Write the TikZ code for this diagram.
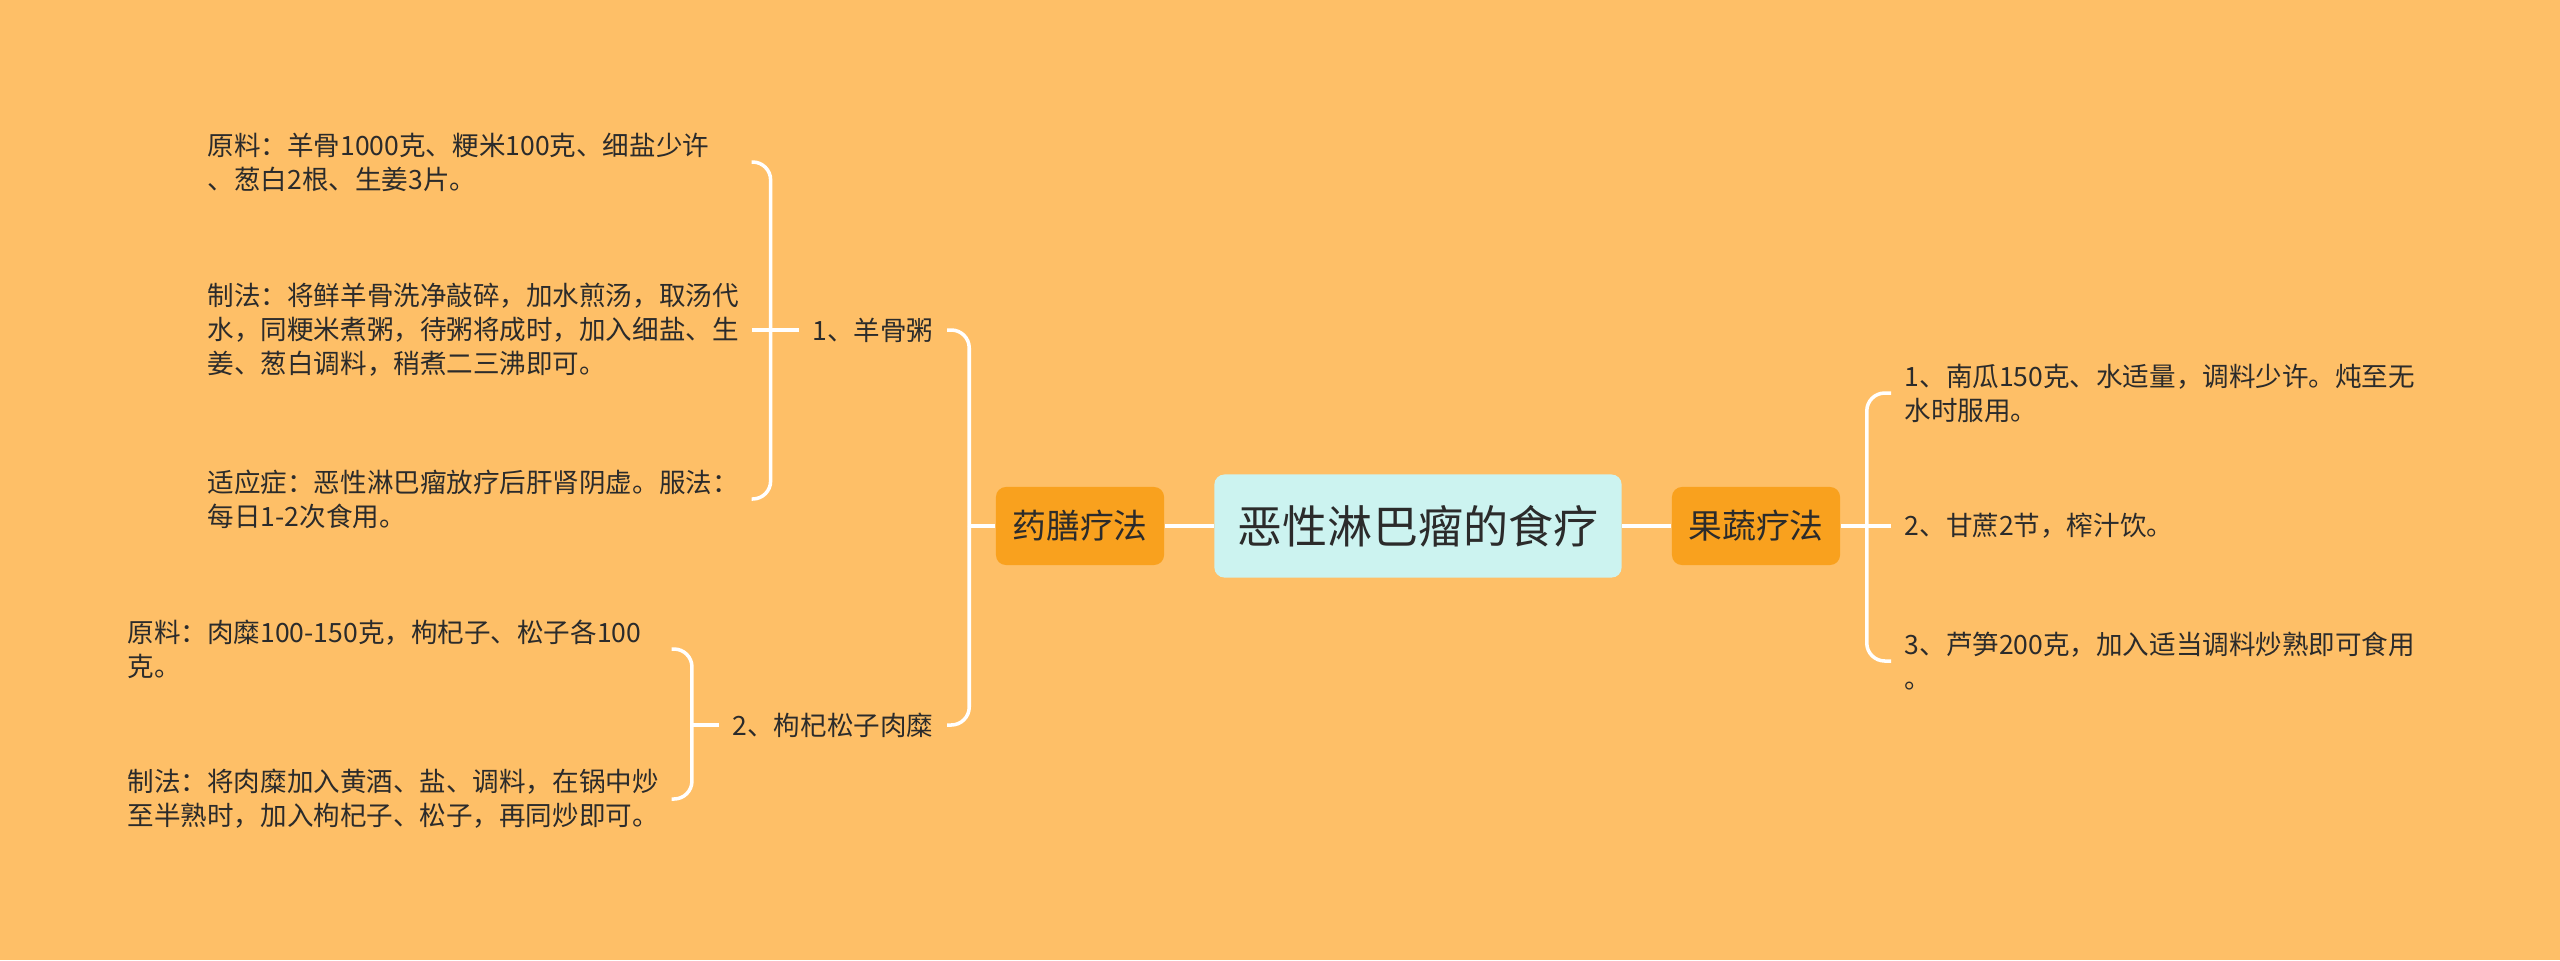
\documentclass[tikz,border=0pt]{standalone}
\usepackage{fontspec}
\setmainfont{Noto Sans CJK SC}
\definecolor{bgc}{HTML}{FEBF67}
\definecolor{mainc}{HTML}{F9A11E}
\definecolor{rootc}{HTML}{CCF3F0}
\definecolor{txt}{HTML}{2B2B2B}
\tikzset{
  root/.style  = {rectangle, rounded corners=1mm, fill=rootc, text=txt, minimum width=40.7mm, minimum height=10.3mm, font=\fontsize{12.8}{15}\selectfont},
  main/.style  = {rectangle, rounded corners=1mm, fill=mainc, text=txt, minimum width=16.8mm, minimum height=7.8mm, font=\fontsize{9.6}{12}\selectfont},
  sub/.style   = {inner sep=1.3mm, text=txt, font=\fontsize{7.55}{9.65}\selectfont},
  leaf/.style  = {inner sep=1.3mm, text=txt, align=left, text width=53mm, font=\fontsize{7.55}{9.65}\selectfont},
  link/.style  = {draw=white, line width=1pt},
  elbow/.style = {link, rounded corners=1.8mm}
}
\begin{document}
\begin{tikzpicture}[x=0.01cm, y=-0.01cm]
  \fill[bgc] (0,0) rectangle (2560,960);
  \useasboundingbox (0,0) rectangle (2560,960);
  % centre and main branches
  \node[root] (R) at (1418,526) {恶性淋巴瘤的食疗};
  \node[main] (Y) at (1080,526) {药膳疗法};
  \node[main] (G) at (1756,526) {果蔬疗法};
  \draw[link] (R.west) -- (Y.east);
  \draw[link] (R.east) -- (G.west);
  % left side
  \node[sub,anchor=east] (Y1) at (947,330) {1、羊骨粥};
  \node[sub,anchor=east] (Y2) at (947,725) {2、枸杞松子肉糜};
  \coordinate (jY) at ([xshift=-2.6mm]Y.west);
  \draw[link] (Y.west) -- (jY);
  \draw[elbow] (jY) |- (Y1.east);
  \draw[elbow] (jY) |- (Y2.east);
  \node[leaf,anchor=west] (Y1a) at (194,162) {原料：羊骨1000克、粳米100克、细盐少许\\、葱白2根、生姜3片。};
  \node[leaf,anchor=west] (Y1b) at (194,330) {制法：将鲜羊骨洗净敲碎，加水煎汤，取汤代\\水，同粳米煮粥，待粥将成时，加入细盐、生\\姜、葱白调料，稍煮二三沸即可。};
  \node[leaf,anchor=west] (Y1c) at (194,499) {适应症：恶性淋巴瘤放疗后肝肾阴虚。服法：\\每日1-2次食用。};
  \coordinate (j1) at ([xshift=-2.8mm]Y1.west);
  \draw[link] (Y1.west) -- (Y1b.east);
  \draw[elbow] (j1) |- (Y1a.east);
  \draw[elbow] (j1) |- (Y1c.east);
  \node[leaf,anchor=west] (Y2a) at (114,649) {原料：肉糜100-150克，枸杞子、松子各100\\克。};
  \node[leaf,anchor=west] (Y2b) at (114,799) {制法：将肉糜加入黄酒、盐、调料，在锅中炒\\至半熟时，加入枸杞子、松子，再同炒即可。};
  \coordinate (j2) at ([xshift=-2.7mm]Y2.west);
  \draw[link] (Y2.west) -- (j2);
  \draw[elbow] (j2) |- (Y2a.east);
  \draw[elbow] (j2) |- (Y2b.east);
  % right side
  \node[leaf,anchor=west,text width=55mm] (G1) at (1891,393) {1、南瓜150克、水适量，调料少许。炖至无\\水时服用。};
  \node[leaf,anchor=west,text width=55mm] (G2) at (1891,526) {2、甘蔗2节，榨汁饮。};
  \node[leaf,anchor=west,text width=55mm] (G3) at (1891,661) {3、芦笋200克，加入适当调料炒熟即可食用\\。};
  \coordinate (jG) at ([xshift=2.6mm]G.east);
  \draw[link] (G.east) -- (G2.west);
  \draw[elbow] (jG) |- (G1.west);
  \draw[elbow] (jG) |- (G3.west);
\end{tikzpicture}
\end{document}
